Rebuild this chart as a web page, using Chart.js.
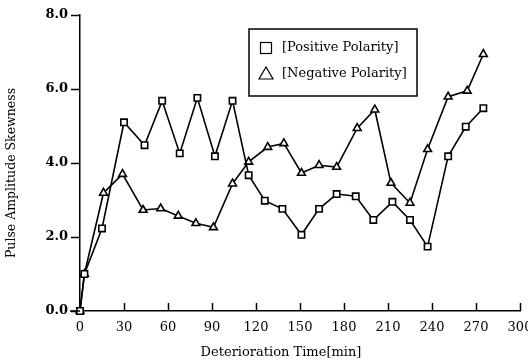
<!DOCTYPE html>
<html>
<head>
<meta charset="utf-8">
<script src="https://cdn.jsdelivr.net/npm/chart.js@4.4.1/dist/chart.umd.min.js"></script>
<style>
  html, body { margin: 0; padding: 0; background: #fff; }
  #wrap { position: relative; width: 528px; height: 364px; }
</style>
</head>
<body>
<div id="wrap"><canvas id="skewChart" width="528" height="364"></canvas></div>
<script>
// values
const timePos = [0, 3, 15, 30, 44, 56, 68, 80, 92, 104, 115, 126, 138, 151, 163, 175, 188, 200, 213, 225, 237, 251, 263, 275];
const skewPos = [0, 1.0, 2.23, 5.1, 4.48, 5.68, 4.26, 5.76, 4.18, 5.68, 3.67, 2.98, 2.76, 2.06, 2.76, 3.16, 3.1, 2.46, 2.95, 2.46, 1.74, 4.18, 4.98, 5.48];
const timeNeg = [0, 3, 16, 29, 43, 55, 67, 79, 91, 104, 115, 128, 139, 151, 163, 175, 189, 201, 212, 225, 237, 251, 264, 275];
const skewNeg = [0, 1.0, 3.19, 3.7, 2.73, 2.77, 2.57, 2.37, 2.26, 3.44, 4.03, 4.43, 4.53, 3.73, 3.94, 3.89, 4.94, 5.44, 3.46, 2.92, 4.37, 5.79, 5.95, 6.94];
const xTicks = [0, 30, 60, 90, 120, 150, 180, 210, 240, 270, 300];
const yTicks = [0, 2, 4, 6, 8];
const seriesNames = ['[Positive Polarity]', '[Negative Polarity]'];
const xTitle = 'Deterioration Time[min]';
const yTitle = 'Pulse Amplitude Skewness';

const serif = '"DejaVu Serif", "Liberation Serif", serif';

const toPoints = (xs, ys) => xs.map((x, i) => ({ x: x, y: ys[i] }));

// x ticks point up into the plot, axis titles sit off-centre, legend has a frame
const extras = {
    id: 'extras',
    afterDatasetsDraw(chart) {
        const c = chart.ctx;
        const xs = chart.scales.x, ys = chart.scales.y;
        c.save();
        c.strokeStyle = '#000';
        c.lineWidth = 1.5;
        xTicks.forEach(v => {
            if (v === 0) return;
            const px = Math.round(xs.getPixelForValue(v)) + 0.5;
            c.beginPath();
            c.moveTo(px, ys.bottom);
            c.lineTo(px, ys.bottom - 8);
            c.stroke();
        });
        // x axis runs a little left of the y axis
        c.beginPath();
        c.moveTo(70, ys.bottom);
        c.lineTo(xs.left, ys.bottom);
        c.stroke();

        // axis titles
        c.fillStyle = '#000';
        c.textAlign = 'center';
        c.textBaseline = 'middle';
        c.font = '13px ' + serif;
        c.fillText(xTitle, 281, 353);
        c.save();
        c.translate(12, 173);
        c.rotate(-Math.PI / 2);
        c.font = '12.5px ' + serif;
        c.fillText(yTitle, 0, 0);
        c.restore();

        // legend
        c.textAlign = 'left';
        const lx = 249, ly = 29, lw = 168, lh = 67;
        c.lineWidth = 1.5;
        c.strokeRect(lx, ly, lw, lh);
        c.font = '13px ' + serif;
        c.lineWidth = 1.2;
        // square
        c.strokeRect(260.5, 42.5, 11, 11);
        c.fillText(seriesNames[0], 282, 48);
        // triangle
        c.beginPath();
        c.moveTo(266, 67);
        c.lineTo(259, 79);
        c.lineTo(273, 79);
        c.closePath();
        c.stroke();
        c.fillText(seriesNames[1], 282, 74);
        c.restore();
    }
};

const common = {
    showLine: true,
    clip: false,
    borderColor: '#000',
    borderWidth: 1.6,
    pointRadius: 4.5,
    pointBorderWidth: 1.6,
    pointBackgroundColor: '#fff',
    pointBorderColor: '#000',
};

const ctx = document.getElementById('skewChart').getContext('2d');
new Chart(ctx, {
    type: 'scatter',
    data: {
        datasets: [
            Object.assign({ label: seriesNames[0], data: toPoints(timePos, skewPos), pointStyle: 'rect' }, common),
            Object.assign({ label: seriesNames[1], data: toPoints(timeNeg, skewNeg), pointStyle: 'triangle' }, common),
        ]
    },
    options: {
        responsive: false,
        animation: false,
        layout: { padding: { top: 15, right: 8, left: 0, bottom: 0 } },
        plugins: {
            legend: { display: false },
            tooltip: { enabled: false },
        },
        scales: {
            x: {
                type: 'linear',
                min: 0,
                max: 300,
                afterBuildTicks: s => { s.ticks = xTicks.map(v => ({ value: v })); },
                afterFit: s => { s.height = 53; s.paddingRight = 0; s.paddingLeft = 0; },
                grid: { display: false },
                border: { color: '#000', width: 1.5 },
                ticks: {
                    color: '#000',
                    font: { family: serif, size: 13 },
                    padding: 1,
                    maxRotation: 0,
                    autoSkip: false,
                },
            },
            y: {
                min: 0,
                max: 8,
                afterBuildTicks: s => { s.ticks = yTicks.map(v => ({ value: v })); },
                afterFit: s => { s.width = 80; s.paddingTop = 0; s.paddingBottom = 0; },
                grid: {
                    drawOnChartArea: false,
                    drawTicks: true,
                    tickLength: 9,
                    tickWidth: 1.5,
                    tickColor: '#000',
                },
                border: { color: '#000', width: 1.5 },
                ticks: {
                    color: '#000',
                    font: { family: serif, size: 13, weight: 'bold' },
                    padding: 3,
                    callback: v => v.toFixed(1),
                },
            }
        }
    },
    plugins: [extras]
});
</script>
</body>
</html>
